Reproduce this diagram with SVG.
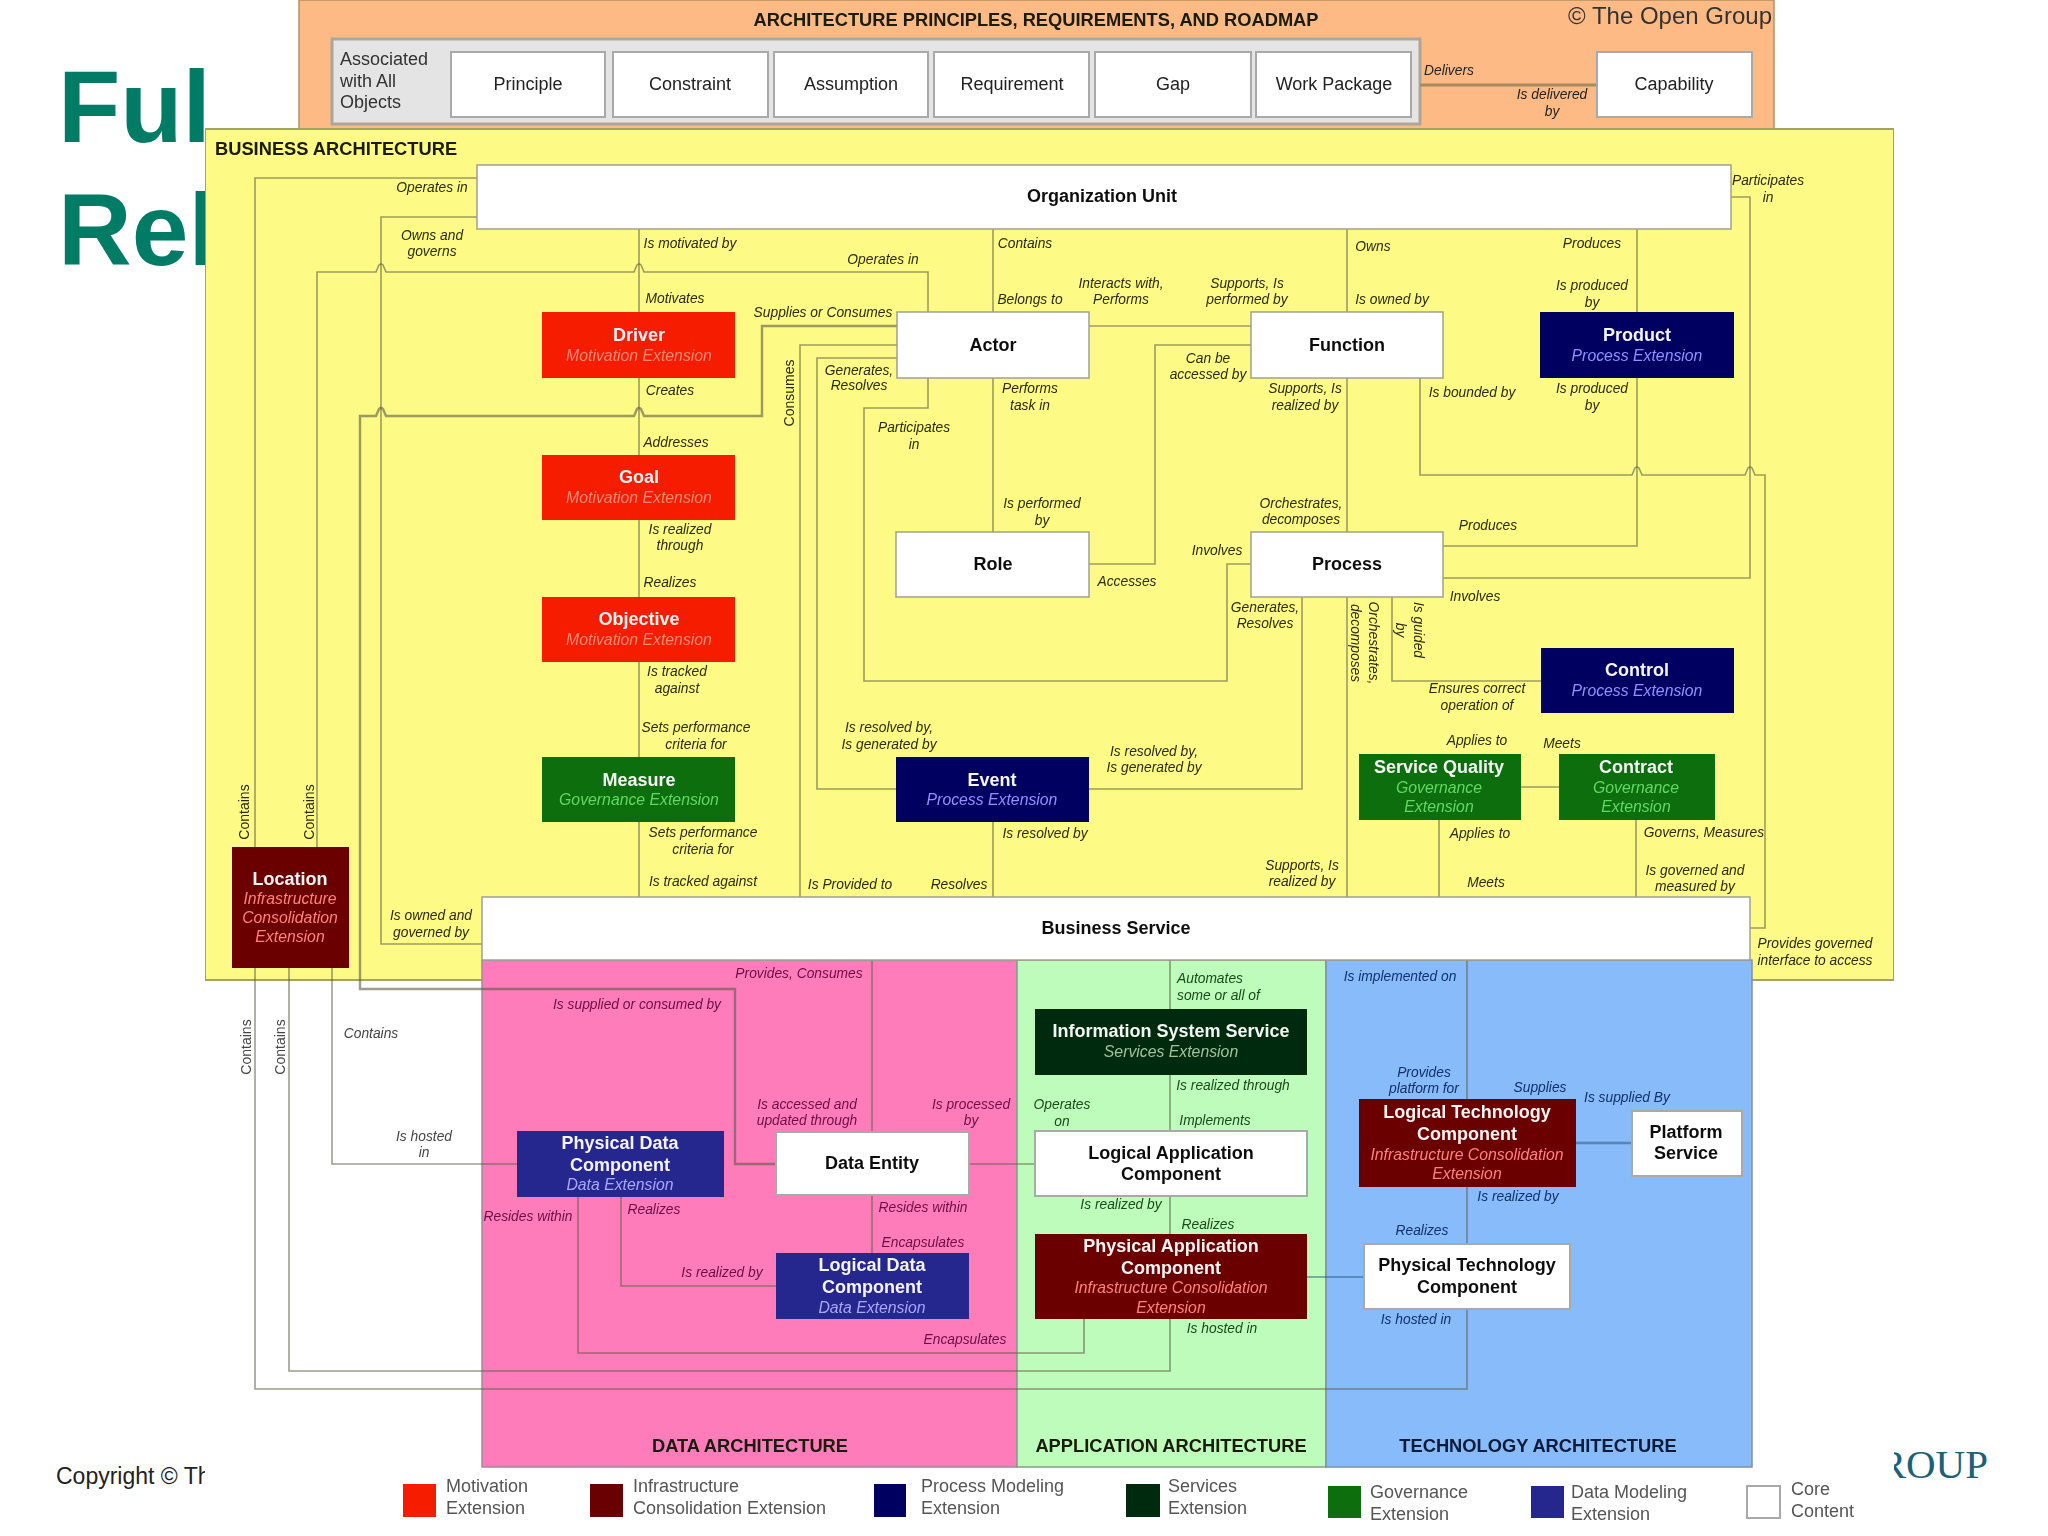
<svg xmlns="http://www.w3.org/2000/svg" width="2048" height="1536" viewBox="0 0 2048 1536">
<defs><filter id="soft" x="0" y="0" width="100%" height="100%"><feGaussianBlur stdDeviation="0.65"/></filter></defs>
<style>
text{font-family:"Liberation Sans",Arial,sans-serif}
.c{text-anchor:middle}
.ttl{font-size:102px;font-weight:700;fill:#007b66}
.h{font-weight:700;font-size:18.3px;fill:#1a1a0a;text-anchor:middle}
.n{stroke:#a0a090;stroke-width:1.5;fill:#fff}
.w{stroke:#a9a9a9;stroke-width:2;fill:#fff}
.nt{font-size:18px;font-weight:700;text-anchor:middle;fill:#111}
.nw{font-size:18px;font-weight:700;text-anchor:middle;fill:#f4f4f4}
.st{font-size:15.8px;font-style:italic;text-anchor:middle}
.wt{font-size:18px;text-anchor:middle;fill:#222}
.lb{font-size:13.8px;font-style:italic;text-anchor:middle;fill:#2a2a10}
.lp{font-size:13.8px;font-style:italic;text-anchor:middle;fill:#6a0f45}
.lg{font-size:13.8px;font-style:italic;text-anchor:middle;fill:#1c4a1c}
.lu{font-size:13.8px;font-style:italic;text-anchor:middle;fill:#12306a}
.lw{font-size:13.8px;font-style:italic;text-anchor:middle;fill:#444}
.v{font-size:14px;text-anchor:middle;fill:#444}
.leg{font-size:18px;fill:#555}
.cn{fill:none;stroke:#5c5c44;stroke-opacity:.6;stroke-width:1.6}
.th{stroke-width:2.4}
.red{fill:#f51d02}.mar{fill:#6b0000}.nav{fill:#000060}.grn{fill:#0f6e0f}.drk{fill:#002c0c}.blu{fill:#25258f}
</style>
<rect width="2048" height="1536" fill="#fff"/>
<text class="ttl" x="58" y="142">Ful</text>
<text class="ttl" x="58" y="265">Rel</text>
<text x="56" y="1484" font-size="23" fill="#222">Copyright © Th</text>
<text x="1988" y="1478" text-anchor="end" font-size="41" style="font-family:'Liberation Serif',serif" fill="#1d6176">ROUP</text>
<rect x="205" y="1400" width="1689" height="136" fill="#fff"/>
<g filter="url(#soft)">
<g id="panels">
<rect id="panel-principles" x="299" y="0" width="1475" height="130" fill="#fdba85" stroke="#b89060" stroke-width="1.5"/>
<rect id="panel-objects" x="332" y="39" width="1088" height="85" fill="#e4e4e4" stroke="#aca69c" stroke-width="3"/>
<rect id="panel-business" x="205" y="129" width="1689" height="851" fill="#fdfb85" stroke="#a3a368" stroke-width="2"/>
<rect id="panel-data" x="482" y="960" width="535" height="507" fill="#ff7cbb" stroke="#a08a98" stroke-width="1.5"/>
<rect id="panel-application" x="1017" y="960" width="309" height="507" fill="#bdfcba" stroke="#8a9a8a" stroke-width="1.5"/>
<rect id="panel-technology" x="1326" y="960" width="426" height="507" fill="#88bbfa" stroke="#8090a8" stroke-width="1.5"/>
<text class="h" x="1036" y="26">ARCHITECTURE PRINCIPLES, REQUIREMENTS, AND ROADMAP</text>
<text x="1670" y="24" class="c" font-size="24" fill="#333">© The Open Group</text>
<text x="215" y="155" font-size="18.3" font-weight="700" fill="#1a1a0a">BUSINESS ARCHITECTURE</text>
<text class="h" x="750" y="1452">DATA ARCHITECTURE</text>
<text class="h" x="1171" y="1452">APPLICATION ARCHITECTURE</text>
<text class="h" x="1538" y="1452" style="fill:#0c1a3a">TECHNOLOGY ARCHITECTURE</text>
<text x="340" y="65" font-size="18" fill="#333">Associated</text>
<text x="340" y="87" font-size="18" fill="#333">with All</text>
<text x="340" y="108" font-size="18" fill="#333">Objects</text>
</g>
<g id="connectors">
<path class="cn" style="stroke:#a88a60;stroke-opacity:1;stroke-width:3" d="M1420,85H1597"/>
<path class="cn" d="M477,178H255V847M255,968V1389H1467V1309M1467,1244V1187M1467,1099V960"/>
<path class="cn" d="M289,968V1371H1170V1319"/>
<path class="cn" d="M332,968V1164H517"/>
<path class="cn" d="M317,847V272H376l3,-7q2,-2 4,0l3,7H634l3,-7q2,-2 4,0l3,7H928V312"/>
<path class="cn" d="M477,217H381V944H482"/>
<path class="cn" d="M639,229V312M639,378V455M639,520V597M639,662V757M639,822V897"/>
<path class="cn th" d="M897,326H762V416H644l-3,-7q-2,-2 -4,0l-3,7H386l-3,-7q-2,-2 -4,0l-3,7H360V989H735V1164H776"/>
<path class="cn" d="M897,345H800V897"/>
<path class="cn" d="M897,358H817V789H896"/>
<path class="cn" d="M928,378V408H864V681H1227V564H1251"/>
<path class="cn" d="M993,229V312M993,378V532M993,822V897"/>
<path class="cn" d="M1089,326H1251"/>
<path class="cn" d="M1251,345H1155V564H1089"/>
<path class="cn" d="M1347,229V312M1347,378V532M1347,597V897"/>
<path class="cn" d="M1637,229V312M1637,378V546H1443"/>
<path class="cn" d="M1420,378V475H1632l3,-7q2,-2 4,0l3,7H1745l3,-7q2,-2 4,0l3,7H1765V928H1750"/>
<path class="cn" d="M1731,197H1750V578H1443"/>
<path class="cn" d="M1392,597V681H1541"/>
<path class="cn" d="M1302,597V789H1089"/>
<path class="cn" d="M1521,787H1559M1439,820V897M1636,820V897"/>
<path class="cn" d="M872,960V1132M872,1195V1253"/>
<path class="cn" d="M1170,960V1009M1170,1075V1131M1170,1196V1234"/>
<path class="cn" d="M969,1164H1035"/>
<path class="cn" d="M621,1197V1286H776"/>
<path class="cn" d="M578,1197V1353H1084V1319"/>
<path class="cn th" style="stroke:#3d5a85" d="M1576,1143H1632"/>
<path class="cn" style="stroke:#20507a" d="M1307,1277H1364"/>
</g>
<g id="labels">
<text class="wt" x="1449" y="75" style="font-size:13.8px;font-style:italic">Delivers</text>
<text class="wt" x="1552" y="99" style="font-size:13.8px;font-style:italic">Is delivered</text>
<text class="wt" x="1552" y="116" style="font-size:13.8px;font-style:italic">by</text>
<text class="lb" x="432" y="192">Operates in</text>
<text class="lb" x="432" y="240">Owns and</text><text class="lb" x="432" y="256">governs</text>
<text class="lb" x="690" y="248">Is motivated by</text>
<text class="lb" x="883" y="264">Operates in</text>
<text class="lb" x="675" y="303">Motivates</text>
<text class="lb" x="823" y="317">Supplies or Consumes</text>
<text class="lb" x="1025" y="248">Contains</text>
<text class="lb" x="1030" y="304">Belongs to</text>
<text class="lb" x="1121" y="288">Interacts with,</text><text class="lb" x="1121" y="304">Performs</text>
<text class="lb" x="1247" y="288">Supports, Is</text><text class="lb" x="1247" y="304">performed by</text>
<text class="lb" x="1373" y="251">Owns</text>
<text class="lb" x="1392" y="304">Is owned by</text>
<text class="lb" x="1592" y="248">Produces</text>
<text class="lb" x="1592" y="290">Is produced</text><text class="lb" x="1592" y="307">by</text>
<text class="lb" x="1768" y="185">Participates</text><text class="lb" x="1768" y="202">in</text>
<text class="lb" x="859" y="375">Generates,</text><text class="lb" x="859" y="390">Resolves</text>
<text class="lb" x="670" y="395">Creates</text>
<text class="lb" x="676" y="447">Addresses</text>
<text class="v" transform="translate(794,393) rotate(-90)" style="fill:#2a2a10">Consumes</text>
<text class="lb" x="1030" y="393">Performs</text><text class="lb" x="1030" y="410">task in</text>
<text class="lb" x="914" y="432">Participates</text><text class="lb" x="914" y="449">in</text>
<text class="lb" x="1208" y="363">Can be</text><text class="lb" x="1208" y="379">accessed by</text>
<text class="lb" x="1305" y="393">Supports, Is</text><text class="lb" x="1305" y="410">realized by</text>
<text class="lb" x="1472" y="397">Is bounded by</text>
<text class="lb" x="1592" y="393">Is produced</text><text class="lb" x="1592" y="410">by</text>
<text class="lb" x="1042" y="508">Is performed</text><text class="lb" x="1042" y="525">by</text>
<text class="lb" x="1301" y="508">Orchestrates,</text><text class="lb" x="1301" y="524">decomposes</text>
<text class="lb" x="1488" y="530">Produces</text>
<text class="lb" x="680" y="534">Is realized</text><text class="lb" x="680" y="550">through</text>
<text class="lb" x="1217" y="555">Involves</text>
<text class="lb" x="1127" y="586">Accesses</text>
<text class="lb" x="670" y="587">Realizes</text>
<text class="lb" x="1475" y="601">Involves</text>
<text class="lb" x="1265" y="612">Generates,</text><text class="lb" x="1265" y="628">Resolves</text>
<text class="lb" x="677" y="676">Is tracked</text><text class="lb" x="677" y="693">against</text>
<text class="lb" transform="translate(1369,643) rotate(90)">Orchestrates,</text>
<text class="lb" transform="translate(1351,643) rotate(90)">decomposes</text>
<text class="lb" transform="translate(1414,630) rotate(90)">Is guided</text>
<text class="lb" transform="translate(1396,630) rotate(90)">by</text>
<text class="lb" x="1477" y="693">Ensures correct</text><text class="lb" x="1477" y="710">operation of</text>
<text class="lb" x="696" y="732">Sets performance</text><text class="lb" x="696" y="749">criteria for</text>
<text class="lb" x="889" y="732">Is resolved by,</text><text class="lb" x="889" y="749">Is generated by</text>
<text class="lb" x="1154" y="756">Is resolved by,</text><text class="lb" x="1154" y="772">Is generated by</text>
<text class="lb" x="1477" y="745">Applies to</text>
<text class="lb" x="1562" y="748">Meets</text>
<text class="lb" x="703" y="837">Sets performance</text><text class="lb" x="703" y="854">criteria for</text>
<text class="lb" x="1045" y="838">Is resolved by</text>
<text class="lb" x="1480" y="838">Applies to</text>
<text class="lb" x="1704" y="837">Governs, Measures</text>
<text class="lb" x="1302" y="870">Supports, Is</text><text class="lb" x="1302" y="886">realized by</text>
<text class="lb" x="1486" y="887">Meets</text>
<text class="lb" x="1695" y="875">Is governed and</text><text class="lb" x="1695" y="891">measured by</text>
<text class="lb" x="703" y="886">Is tracked against</text>
<text class="lb" x="850" y="889">Is Provided to</text>
<text class="lb" x="959" y="889">Resolves</text>
<text class="lb" x="431" y="920">Is owned and</text><text class="lb" x="431" y="937">governed by</text>
<text class="lb" x="1815" y="948">Provides governed</text><text class="lb" x="1815" y="965">interface to access</text>
<text class="v" transform="translate(249,812) rotate(-90)" style="fill:#2a2a10">Contains</text>
<text class="v" transform="translate(314,812) rotate(-90)" style="fill:#2a2a10">Contains</text>
<text class="v" transform="translate(251,1047) rotate(-90)">Contains</text>
<text class="v" transform="translate(285,1047) rotate(-90)">Contains</text>
<text class="lw" x="371" y="1038">Contains</text>
<text class="lw" x="424" y="1141">Is hosted</text><text class="lw" x="424" y="1157">in</text>
<text class="lp" x="799" y="978">Provides, Consumes</text>
<text class="lp" x="637" y="1009">Is supplied or consumed by</text>
<text class="lp" x="807" y="1109">Is accessed and</text><text class="lp" x="807" y="1125">updated through</text>
<text class="lp" x="971" y="1109">Is processed</text><text class="lp" x="971" y="1125">by</text>
<text class="lp" x="528" y="1221">Resides within</text>
<text class="lp" x="654" y="1214">Realizes</text>
<text class="lp" x="923" y="1212">Resides within</text>
<text class="lp" x="923" y="1247">Encapsulates</text>
<text class="lp" x="722" y="1277">Is realized by</text>
<text class="lp" x="965" y="1344">Encapsulates</text>
<text class="lg" x="1177" y="983" style="text-anchor:start">Automates</text><text class="lg" x="1177" y="1000" style="text-anchor:start">some or all of</text>
<text class="lg" x="1233" y="1090">Is realized through</text>
<text class="lg" x="1215" y="1125">Implements</text>
<text class="lg" x="1062" y="1109">Operates</text><text class="lg" x="1062" y="1126">on</text>
<text class="lg" x="1121" y="1209">Is realized by</text>
<text class="lg" x="1208" y="1229">Realizes</text>
<text class="lg" x="1222" y="1333">Is hosted in</text>
<text class="lu" x="1400" y="981">Is implemented on</text>
<text class="lu" x="1424" y="1077">Provides</text><text class="lu" x="1424" y="1093">platform for</text>
<text class="lu" x="1540" y="1092">Supplies</text>
<text class="lu" x="1627" y="1102">Is supplied By</text>
<text class="lu" x="1518" y="1201">Is realized by</text>
<text class="lu" x="1422" y="1235">Realizes</text>
<text class="lu" x="1416" y="1324">Is hosted in</text>
</g>
<g id="node-principle"><rect class="w" x="451" y="52" width="154" height="65"/><text class="wt" x="528" y="90">Principle</text></g>
<g id="node-constraint"><rect class="w" x="613" y="52" width="155" height="65"/><text class="wt" x="690" y="90">Constraint</text></g>
<g id="node-assumption"><rect class="w" x="774" y="52" width="154" height="65"/><text class="wt" x="851" y="90">Assumption</text></g>
<g id="node-requirement"><rect class="w" x="934" y="52" width="155" height="65"/><text class="wt" x="1012" y="90">Requirement</text></g>
<g id="node-gap"><rect class="w" x="1095" y="52" width="156" height="65"/><text class="wt" x="1173" y="90">Gap</text></g>
<g id="node-work-package"><rect class="w" x="1256" y="52" width="155" height="65"/><text class="wt" x="1334" y="90">Work Package</text></g>
<g id="node-capability"><rect class="w" x="1597" y="52" width="155" height="65"/><text class="wt" x="1674" y="90">Capability</text></g>
<g id="node-organization-unit"><rect class="n" x="477" y="165" width="1254" height="64"/><text class="nt" x="1102" y="202">Organization Unit</text></g>
<g id="node-driver"><rect class="red" x="542" y="312" width="193" height="66"/><text class="nw" x="639" y="341">Driver</text><text class="st" x="639" y="361" fill="#ff8a78">Motivation Extension</text></g>
<g id="node-goal"><rect class="red" x="542" y="455" width="193" height="65"/><text class="nw" x="639" y="483">Goal</text><text class="st" x="639" y="503" fill="#ff8a78">Motivation Extension</text></g>
<g id="node-objective"><rect class="red" x="542" y="597" width="193" height="65"/><text class="nw" x="639" y="625">Objective</text><text class="st" x="639" y="645" fill="#ff8a78">Motivation Extension</text></g>
<g id="node-measure"><rect class="grn" x="542" y="757" width="193" height="65"/><text class="nw" x="639" y="786">Measure</text><text class="st" x="639" y="805" fill="#62d862">Governance Extension</text></g>
<g id="node-location"><rect class="mar" x="232" y="847" width="117" height="121"/><text class="nw" x="290" y="885">Location</text><text class="st" x="290" y="904" fill="#ff8080">Infrastructure</text><text class="st" x="290" y="923" fill="#ff8080">Consolidation</text><text class="st" x="290" y="942" fill="#ff8080">Extension</text></g>
<g id="node-actor"><rect class="n" x="897" y="312" width="192" height="66"/><text class="nt" x="993" y="351">Actor</text></g>
<g id="node-function"><rect class="n" x="1251" y="312" width="192" height="66"/><text class="nt" x="1347" y="351">Function</text></g>
<g id="node-product"><rect class="nav" x="1540" y="312" width="194" height="66"/><text class="nw" x="1637" y="341">Product</text><text class="st" x="1637" y="361" fill="#9090ff">Process Extension</text></g>
<g id="node-role"><rect class="n" x="896" y="532" width="193" height="65"/><text class="nt" x="993" y="570">Role</text></g>
<g id="node-process"><rect class="n" x="1251" y="532" width="192" height="65"/><text class="nt" x="1347" y="570">Process</text></g>
<g id="node-event"><rect class="nav" x="896" y="757" width="193" height="65"/><text class="nw" x="992" y="786">Event</text><text class="st" x="992" y="805" fill="#9090ff">Process Extension</text></g>
<g id="node-control"><rect class="nav" x="1541" y="648" width="193" height="65"/><text class="nw" x="1637" y="676">Control</text><text class="st" x="1637" y="696" fill="#9090ff">Process Extension</text></g>
<g id="node-service-quality"><rect class="grn" x="1359" y="754" width="162" height="66"/><text class="nw" x="1439" y="773">Service Quality</text><text class="st" x="1439" y="793" fill="#62d862">Governance</text><text class="st" x="1439" y="812" fill="#62d862">Extension</text></g>
<g id="node-contract"><rect class="grn" x="1559" y="754" width="156" height="66"/><text class="nw" x="1636" y="773">Contract</text><text class="st" x="1636" y="793" fill="#62d862">Governance</text><text class="st" x="1636" y="812" fill="#62d862">Extension</text></g>
<g id="node-business-service"><rect class="n" x="482" y="897" width="1268" height="63"/><text class="nt" x="1116" y="934">Business Service</text></g>
<g id="node-physical-data"><rect class="blu" x="517" y="1131" width="207" height="66"/><text class="nw" x="620" y="1149">Physical Data</text><text class="nw" x="620" y="1171">Component</text><text class="st" x="620" y="1190" fill="#a8a8ff">Data Extension</text></g>
<g id="node-data-entity"><rect class="w" x="776" y="1132" width="193" height="63"/><text class="nt" x="872" y="1169">Data Entity</text></g>
<g id="node-logical-data"><rect class="blu" x="776" y="1253" width="193" height="66"/><text class="nw" x="872" y="1271">Logical Data</text><text class="nw" x="872" y="1293">Component</text><text class="st" x="872" y="1313" fill="#a8a8ff">Data Extension</text></g>
<g id="node-information-system"><rect class="drk" x="1035" y="1009" width="272" height="66"/><text class="nw" x="1171" y="1037">Information System Service</text><text class="st" x="1171" y="1057" fill="#a0c0a0">Services Extension</text></g>
<g id="node-logical-application"><rect class="w" x="1035" y="1131" width="272" height="65"/><text class="nt" x="1171" y="1159">Logical Application</text><text class="nt" x="1171" y="1180">Component</text></g>
<g id="node-physical-application"><rect class="mar" x="1035" y="1234" width="272" height="85"/><text class="nw" x="1171" y="1252">Physical Application</text><text class="nw" x="1171" y="1274">Component</text><text class="st" x="1171" y="1293" fill="#ff8080">Infrastructure Consolidation</text><text class="st" x="1171" y="1313" fill="#ff8080">Extension</text></g>
<g id="node-logical-technology"><rect class="mar" x="1359" y="1099" width="217" height="88"/><text class="nw" x="1467" y="1118">Logical Technology</text><text class="nw" x="1467" y="1140">Component</text><text class="st" x="1467" y="1160" fill="#ff8080">Infrastructure Consolidation</text><text class="st" x="1467" y="1179" fill="#ff8080">Extension</text></g>
<g id="node-platform-service"><rect class="w" x="1632" y="1111" width="110" height="65"/><text class="nt" x="1686" y="1138">Platform</text><text class="nt" x="1686" y="1159">Service</text></g>
<g id="node-physical-technology"><rect class="w" x="1364" y="1244" width="206" height="65"/><text class="nt" x="1467" y="1271">Physical Technology</text><text class="nt" x="1467" y="1293">Component</text></g>
<g id="legend">
<rect class="red" x="403" y="1484" width="33" height="33"/><text class="leg" x="446" y="1492">Motivation</text><text class="leg" x="446" y="1514">Extension</text>
<rect class="mar" x="590" y="1484" width="33" height="33"/><text class="leg" x="633" y="1492">Infrastructure</text><text class="leg" x="633" y="1514">Consolidation Extension</text>
<rect class="nav" x="874" y="1484" width="32" height="33"/><text class="leg" x="921" y="1492">Process Modeling</text><text class="leg" x="921" y="1514">Extension</text>
<rect class="drk" x="1126" y="1484" width="34" height="33"/><text class="leg" x="1168" y="1492">Services</text><text class="leg" x="1168" y="1514">Extension</text>
<rect class="grn" x="1328" y="1486" width="33" height="32"/><text class="leg" x="1370" y="1498">Governance</text><text class="leg" x="1370" y="1520">Extension</text>
<rect class="blu" x="1531" y="1486" width="33" height="32"/><text class="leg" x="1571" y="1498">Data Modeling</text><text class="leg" x="1571" y="1520">Extension</text>
<rect class="w" x="1747" y="1486" width="33" height="32"/><text class="leg" x="1791" y="1495">Core</text><text class="leg" x="1791" y="1517">Content</text>
</g>
</g>
</svg>
